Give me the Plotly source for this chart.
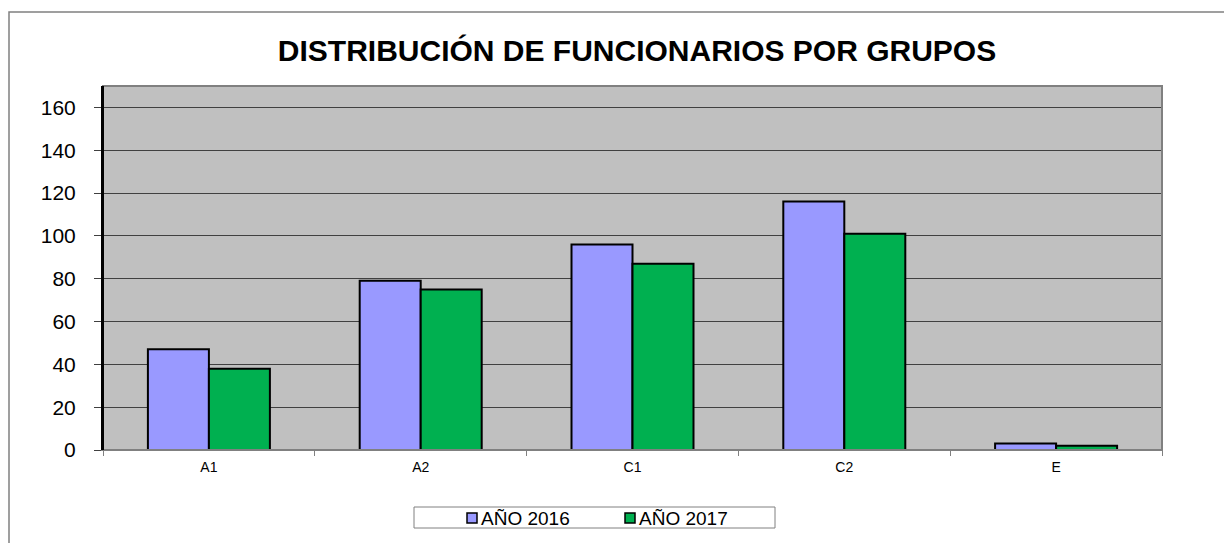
import plotly.graph_objects as go

categories = ["A1", "A2", "C1", "C2", "E"]
values_2016 = [47, 79, 96, 116, 3]
values_2017 = [38, 75, 87, 101, 2]
series_names = ["AÑO 2016", "AÑO 2017"]
series_colors = ["#9999FF", "#00B050"]
y_ticks = [0, 20, 40, 60, 80, 100, 120, 140, 160]

# page has an 8px body margin; figure fills the rest of the 1232x543 window
OFF = 8
W, H = 1232 - OFF, 543 - OFF
PL, PR, PT, PB = 103, 1162, 86, 450  # plot area in screen pixels
L, R, T, B = PL - OFF, 1232 - PR, PT - OFF, 543 - PB
pw, ph = PR - PL, PB - PT


def px(x):
    return (x - PL) / pw


def py(y):
    return (PB - y) / ph


fig = go.Figure()
for name, vals, col in zip(series_names, [values_2016, values_2017], series_colors):
    fig.add_trace(go.Bar(x=categories, y=vals, name=name,
                         marker=dict(color=col, line=dict(color="black", width=2))))

shapes = [
    dict(type="rect", xref="paper", yref="paper", x0=0, x1=1, y0=0, y1=1,
         line=dict(color="#808080", width=2), fillcolor="rgba(0,0,0,0)", layer="above"),
    dict(type="line", xref="paper", yref="paper", x0=0, x1=0, y0=0, y1=1,
         line=dict(color="black", width=2), layer="above"),
    dict(type="rect", xref="paper", yref="paper", x0=px(9), x1=px(1260), y0=py(580), y1=py(12),
         line=dict(color="#808080", width=1.5), fillcolor="rgba(0,0,0,0)", layer="below"),
    # legend box
    dict(type="rect", xref="paper", yref="paper", x0=px(414), x1=px(775), y0=py(528), y1=py(507),
         line=dict(color="#808080", width=1), fillcolor="white", layer="above"),
]
annotations = []
leg_x = [467, 625]
for name, col, lx in zip(series_names, series_colors, leg_x):
    shapes.append(dict(type="rect", xref="paper", yref="paper", x0=px(lx), x1=px(lx + 10),
                       y0=py(523), y1=py(513), line=dict(color="black", width=1.5),
                       fillcolor=col, layer="above"))
    annotations.append(dict(text=name, xref="paper", yref="paper", x=px(lx + 12), y=py(518),
                            xanchor="left", yanchor="middle", showarrow=False,
                            font=dict(size=19, family="Liberation Sans, Arial", color="black")))

fig.update_layout(
    width=W, height=H,
    margin=dict(l=L, r=R, t=T, b=B, autoexpand=False),
    paper_bgcolor="white",
    plot_bgcolor="#C0C0C0",
    barmode="group", bargap=0.424, bargroupgap=0,
    title=dict(text="<b>DISTRIBUCIÓN DE FUNCIONARIOS POR GRUPOS</b>",
               x=px(637), xanchor="center", xref="paper", y=1 - (50 - OFF) / H, yanchor="middle",
               font=dict(family="Liberation Sans, Arial", size=30, color="black")),
    font=dict(family="Liberation Sans, Arial", color="black"),
    showlegend=False,
    xaxis=dict(showgrid=False, tickfont=dict(size=14), ticks="outside", ticklen=5,
               tickcolor="#808080", tickson="boundaries", showline=True, linecolor="#808080",
               linewidth=1, ticklabelstandoff=4),
    yaxis=dict(range=[0, 170], tickvals=y_ticks, tickfont=dict(size=21), ticks="outside",
               ticklen=7, tickcolor="#404040", showgrid=True, gridcolor="#404040", gridwidth=1,
               showline=True, linecolor="black", linewidth=2, zeroline=False,
               ticklabelstandoff=14),
    shapes=shapes,
    annotations=annotations,
)

fig.write_html("out.html")
